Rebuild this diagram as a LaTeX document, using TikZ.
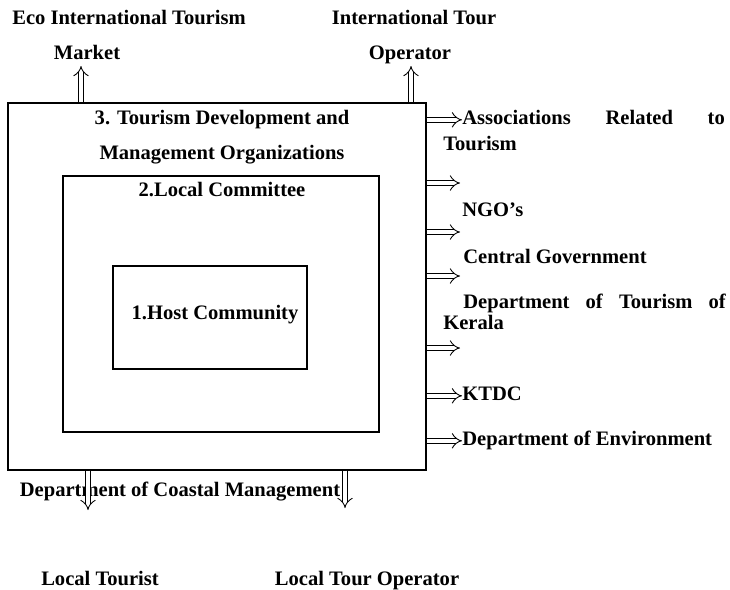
\documentclass[tikz,border=0pt]{standalone}
\usepackage{fontspec}
\setmainfont{Liberation Serif}
\usetikzlibrary{positioning,arrows.meta}
\tikzset{box node/.style={draw,line width=0.7pt,inner sep=0pt},
  label font/.style={font=\bfseries\fontsize{11.7}{14}\selectfont},
  label node/.style={label font,inner sep=0pt,text height=8pt,text depth=2.5pt,yshift=-1.6pt},
  flow arrow/.style={double=white,double distance=2.6pt,line width=0.5pt,-{Implies[scale=1.3]}}}

\begin{document}
\begin{tikzpicture}[x=0.02cm,y=-0.02cm]
            \useasboundingbox (0,0) rectangle (730,589);

            % nested boxes
            \node[box node,minimum width=8.36cm,minimum height=7.34cm] (outer) at (217,286.5) {};
            \node[box node,minimum width=6.32cm,minimum height=5.12cm] (middle) at (221,304) {};
            \node[box node,minimum width=3.88cm,minimum height=2.06cm] (host) at (210,317.5) {};
            \node[label node] (hostText) at (215,312) {1.Host Community};

            \node[label node] (tdm1) at (222,117) {3. Tourism Development and};
            \node[label node] (tdm2) at (222,152) {Management Organizations};
            \node[label node] (local) at (222,189) {2.Local Committee};

            % top
            \node[label node] (eco1) at (129,17) {Eco International Tourism};
            \node[label node] (eco2) at (87,52) {Market};
            \node[label node] (ito1) at (414,17) {International Tour};
            \node[label node] (ito2) at (410,52) {Operator};
            \coordinate (ecoTip) at (81,66);
            \coordinate (itoTip) at (411,66);

            % right side
            \node[label node,anchor=west,text width=5.25cm] (assoc1) at (462,117) {Associations\hfill Related\hfill to};
            \node[label node,anchor=west] (assoc2) at (443,143) {Tourism};
            \node[label node,anchor=west] (ngo) at (462,209) {NGO's};
            \node[label node,anchor=west] (central) at (463,256) {Central Government};
            \node[label node,anchor=west,text width=5.25cm] (dtk1) at (463,301) {Department\hfill of\hfill Tourism\hfill of};
            \node[label node,anchor=west] (dtk2) at (443,322) {Kerala};
            \node[label node,anchor=west] (ktdc) at (462,393) {KTDC};
            \node[label node,anchor=west] (env) at (462,438) {Department of Environment};
            \coordinate (ngoTip) at (460,183);
            \coordinate (centralTip) at (460,232);
            \coordinate (dtkTip) at (460,276);
            \coordinate (blankTip) at (460,348);

            % bottom
            \node[label node] (coastal) at (180,489) {Department of Coastal Management};
            \node[label node] (ltour) at (100,578) {Local Tourist};
            \node[label node] (lop) at (367,578) {Local Tour Operator};
            \coordinate (ltourTip) at (88,510);
            \coordinate (lopTip) at (345,508);

            \draw[flow arrow] (outer.north -| ecoTip) -- (ecoTip);
            \draw[flow arrow] (outer.north -| itoTip) -- (itoTip);
            \draw[flow arrow] (outer.east |- assoc1.west) -- (assoc1.west);
            \draw[flow arrow] (outer.east |- ngoTip) -- (ngoTip);
            \draw[flow arrow] (outer.east |- centralTip) -- (centralTip);
            \draw[flow arrow] (outer.east |- dtkTip) -- (dtkTip);
            \draw[flow arrow] (outer.east |- blankTip) -- (blankTip);
            \draw[flow arrow] (outer.east |- ktdc.west) -- (ktdc.west);
            \draw[flow arrow] (outer.east |- env.west) -- (env.west);
            \draw[flow arrow] (outer.south -| ltourTip) -- (ltourTip);
            \draw[flow arrow] (outer.south -| lopTip) -- (lopTip);
        \end{tikzpicture}
\end{document}
